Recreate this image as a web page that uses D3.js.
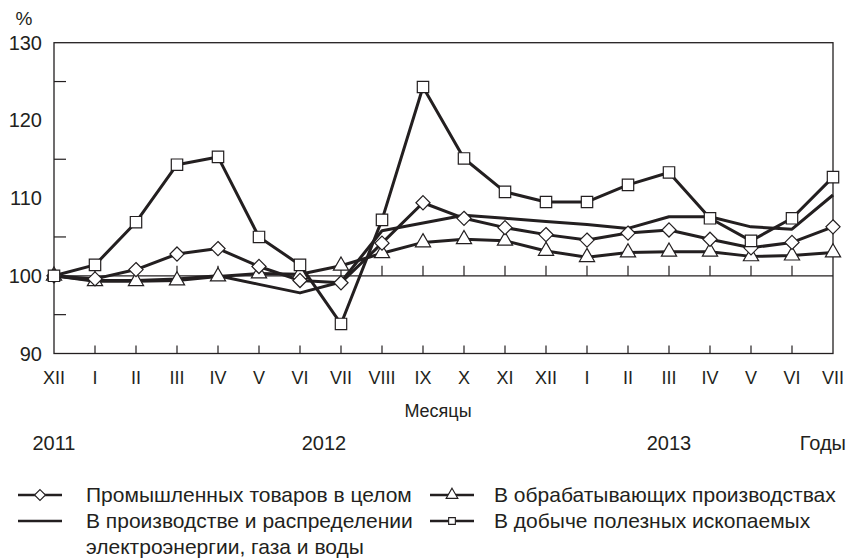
<!DOCTYPE html>
<html>
<head>
<meta charset="utf-8">
<script src="https://cdn.jsdelivr.net/npm/d3@7"></script>
<style>
  body { margin: 0; background: #fff; }
  svg text { font-family: "Liberation Sans", Arial, sans-serif; fill: #231f20; }
</style>
</head>
<body>
<svg id="chart" width="849" height="558"></svg>
<script>
// months from XII 2011 to VII 2013
const months = ["XII","I","II","III","IV","V","VI","VII","VIII","IX","X","XI","XII","I","II","III","IV","V","VI","VII"];

// series, % of Dec 2011
const totalIdx  = [100, 99.6, 100.8, 102.8, 103.5, 101.2, 99.4, 99.1, 104.2, 109.4, 107.4, 106.2, 105.3, 104.6, 105.5, 105.9, 104.7, 103.6, 104.3, 106.3];
const manufIdx  = [100, 99.3, 99.3, 99.4, 99.9, 100.3, 100.2, 101.3, 102.9, 104.3, 104.7, 104.5, 103.2, 102.4, 103.0, 103.1, 103.1, 102.5, 102.6, 103.0];
const energyIdx = [100, 99.4, 99.4, 99.6, 100.0, 98.9, 97.8, 99.2, 105.8, 106.8, 107.8, 107.4, 107.0, 106.6, 106.1, 107.6, 107.6, 106.3, 106.0, 110.4];
const miningIdx = [100, 101.4, 106.9, 114.3, 115.3, 105.0, 101.4, 93.8, 107.2, 124.3, 115.1, 110.8, 109.5, 109.5, 111.7, 113.3, 107.4, 104.5, 107.4, 112.7];

const yTicks = [90, 100, 110, 120, 130];
const years = ["2011", "2012", "2013"];

const seriesNames = [
  "Промышленных товаров в целом",
  "В обрабатывающих производствах",
  "В производстве и распределении|электроэнергии, газа и воды",
  "В добыче полезных ископаемых"
];

const ink = "#231f20";
const svg = d3.select("#chart");

// plot box
const margin = {left: 54, right: 16, top: 42.7, bottom: 204.5};
const W = 849, H = 558;
const x = d3.scalePoint().domain(d3.range(months.length)).range([margin.left, W - margin.right]);
const y = d3.scaleLinear().domain([90, 130]).range([H - margin.bottom, margin.top]);

// squarish diamond, the d3 one is too tall
const diamondSym = {
  draw(ctx, size) {
    const r = Math.sqrt(size / 2);
    ctx.moveTo(0, -r); ctx.lineTo(r, 0); ctx.lineTo(0, r); ctx.lineTo(-r, 0); ctx.closePath();
  }
};

const g = svg.append("g");

// frame
g.append("rect")
  .attr("x", margin.left).attr("y", y(130))
  .attr("width", x(months.length - 1) - margin.left)
  .attr("height", y(90) - y(130))
  .attr("fill", "none").attr("stroke", ink).attr("stroke-width", 1.3);

// 100 baseline
g.append("line")
  .attr("x1", margin.left).attr("x2", x(months.length - 1))
  .attr("y1", y(100)).attr("y2", y(100))
  .attr("stroke", ink).attr("stroke-width", 1.3);

// month ticks (on bottom and on the 100 line)
const inner = d3.range(1, months.length - 1);
g.selectAll(".tb").data(inner).enter().append("line")
  .attr("x1", d => x(d)).attr("x2", d => x(d))
  .attr("y1", y(90)).attr("y2", y(90) - 8)
  .attr("stroke", ink).attr("stroke-width", 1.2);
g.selectAll(".tm").data(inner).enter().append("line")
  .attr("x1", d => x(d)).attr("x2", d => x(d))
  .attr("y1", y(100)).attr("y2", y(100) - 10)
  .attr("stroke", ink).attr("stroke-width", 1.2);

// minor y ticks
g.selectAll(".ty").data(d3.range(95, 130, 10)).enter().append("line")
  .attr("x1", margin.left).attr("x2", margin.left + 12)
  .attr("y1", d => y(d)).attr("y2", d => y(d))
  .attr("stroke", ink).attr("stroke-width", 1.2);

// y labels
g.selectAll(".yl").data(yTicks).enter().append("text")
  .attr("x", 42).attr("y", d => y(d) + 7)
  .attr("text-anchor", "end").attr("font-size", 20)
  .text(d => d);
g.append("text").attr("x", 24).attr("y", 25).attr("text-anchor", "middle")
  .attr("font-size", 19).text("%");

// month labels
g.selectAll(".ml").data(months).enter().append("text")
  .attr("x", (d, i) => x(i)).attr("y", 384)
  .attr("text-anchor", "middle").attr("font-size", 18)
  .text(d => d);

g.append("text").attr("x", 438).attr("y", 417).attr("text-anchor", "middle")
  .attr("font-size", 18).text("Месяцы");

// year labels under Dec 2011, mid 2012, Mar 2013
const yearX = [x(0), 324, x(15)];
g.selectAll(".yr").data(years).enter().append("text")
  .attr("x", (d, i) => yearX[i]).attr("y", 450)
  .attr("text-anchor", "middle").attr("font-size", 20)
  .text(d => d);
g.append("text").attr("x", 846).attr("y", 450).attr("text-anchor", "end")
  .attr("font-size", 20).text("Годы");

// lines
const line = d3.line().x((d, i) => x(i)).y(d => y(d));
const series = [
  {vals: energyIdx, sym: null},
  {vals: manufIdx, sym: d3.symbolTriangle, size: 100},
  {vals: totalIdx, sym: diamondSym, size: 100},
  {vals: miningIdx, sym: d3.symbolSquare, size: 130}
];

series.forEach(s => {
  g.append("path").datum(s.vals)
    .attr("d", line)
    .attr("fill", "none").attr("stroke", ink)
    .attr("stroke-width", 3).attr("stroke-linejoin", "round");
});

series.forEach(s => {
  if (!s.sym) return;
  const sh = d3.symbol().type(s.sym).size(s.size);
  g.selectAll(null).data(s.vals).enter().append("path")
    .attr("d", sh)
    .attr("transform", (d, i) => `translate(${x(i)},${y(d)})`)
    .attr("fill", "#fff").attr("stroke", ink).attr("stroke-width", 1.2);
});

// legend
const legend = [
  {name: seriesNames[0], sym: diamondSym, size: 60, lx: 18, tx: 86, cy: 495},
  {name: seriesNames[2], sym: null, lx: 18, tx: 86, cy: 521},
  {name: seriesNames[1], sym: d3.symbolTriangle, size: 60, lx: 430, tx: 494, cy: 495},
  {name: seriesNames[3], sym: d3.symbolSquare, size: 45, lx: 430, tx: 494, cy: 521}
];

legend.forEach(l => {
  g.append("line")
    .attr("x1", l.lx).attr("x2", l.lx + 44)
    .attr("y1", l.cy).attr("y2", l.cy)
    .attr("stroke", ink).attr("stroke-width", 2.6);
  if (l.sym) {
    g.append("path").attr("d", d3.symbol().type(l.sym).size(l.size))
      .attr("transform", `translate(${l.lx + 22},${l.cy})`)
      .attr("fill", "#fff").attr("stroke", ink).attr("stroke-width", 1.1);
  }
  l.name.split("|").forEach((t, k) => {
    g.append("text").attr("x", l.tx).attr("y", l.cy + 7 + k * 26)
      .attr("font-size", 21).text(t);
  });
});
</script>
</body>
</html>
